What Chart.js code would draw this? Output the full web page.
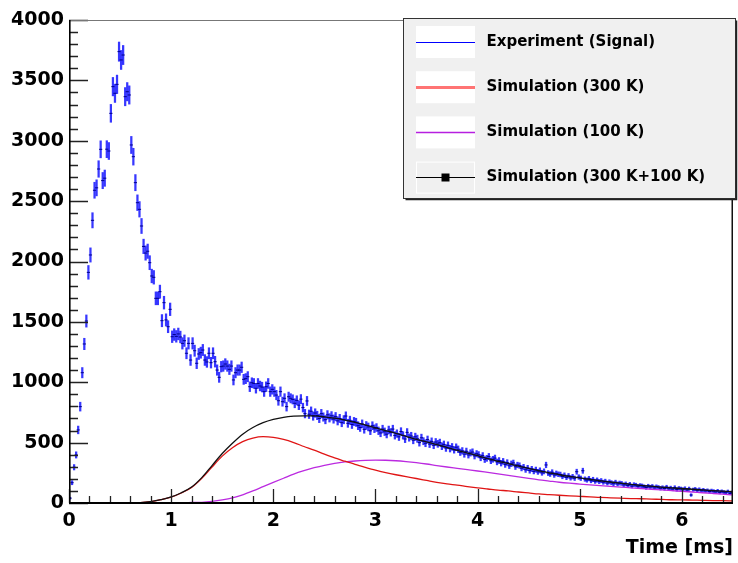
<!DOCTYPE html>
<html>
<head>
<meta charset="utf-8">
<title>Signal vs simulation</title>
<script src="https://cdn.jsdelivr.net/npm/chart.js@4.4.1/dist/chart.umd.min.js"></script>
<style>
  html, body { margin: 0; padding: 0; background: #fff; }
  #wrap { width: 738px; height: 563px; }
</style>
</head>
<body>
<div id="wrap"><canvas id="c" width="738" height="563"></canvas></div>
<script>
// measured signal, histogram with 0.02 ms bins (bin centres from 0.01 ms)
const BIN_T0 = 0.01, BIN_W = 0.02;
const signal = [
  40, 168, 296, 398, 605, 798, 1079, 1317, 1507, 1910,
  2054, 2341, 2590, 2610, 2766, 2929, 2670, 2690, 2930, 2915,
  3227, 3448, 3393, 3467, 3738, 3669, 3710, 3365, 3406, 3379,
  2965, 2868, 2653, 2487, 2432, 2294, 2125, 2070, 2085, 1990,
  1880, 1869, 1695, 1695, 1750, 1510, 1659, 1516, 1460, 1604,
  1377, 1395, 1380, 1400, 1375, 1322, 1344, 1240, 1322, 1184,
  1322, 1261, 1157, 1234, 1245, 1267, 1184, 1168, 1240, 1162,
  1240, 1170, 1101, 1041, 1129, 1134, 1151, 1134, 1107, 1134,
  1019, 1079, 1101, 1101, 1124, 1024, 1030, 1046, 963, 996,
  990, 950, 990, 969, 960, 922, 963, 990, 922, 941,
  922, 894, 847, 922, 839, 867, 798, 880, 867, 858,
  826, 850, 810, 860, 790, 740, 845, 735, 760, 720,
  745, 725, 700, 740, 712, 690, 730, 705, 722, 695,
  715, 680, 700, 665, 690, 720, 660, 685, 650, 675,
  668, 640, 625, 655, 610, 642, 630, 598, 640, 615,
  625, 598, 580, 612, 590, 570, 605, 585, 612, 560,
  575, 548, 592, 560, 530, 585, 542, 555, 520, 548,
  532, 500, 540, 512, 495, 525, 488, 510, 478, 505,
  490, 500, 470, 485, 455, 478, 450, 465, 440, 462,
  445, 420, 432, 405, 428, 398, 415, 422, 390, 408,
  400, 375, 392, 360, 370, 385, 350, 362, 372, 340,
  352, 330, 345, 318, 335, 308, 325, 332, 300, 315,
  310, 288, 298, 275, 290, 268, 282, 262, 276, 258,
  270, 250, 262, 315, 248, 240, 255, 232, 245, 238,
  236, 220, 230, 212, 225, 208, 218, 205, 259, 215,
  205, 267, 198, 190, 202, 185, 195, 180, 190, 178,
  185, 172, 180, 165, 175, 168, 160, 172, 158, 165,
  162, 150, 158, 145, 155, 140, 152, 148, 138, 145,
  142, 135, 128, 140, 132, 138, 125, 135, 130, 122,
  128, 120, 132, 118, 125, 115, 128, 112, 122, 118,
  112, 120, 108, 118, 66, 110, 115, 105, 112, 102,
  108, 100, 104, 95, 102, 98, 92, 100, 88, 96,
  90, 85, 95, 80, 88
];
const ERR_SCALE = 1.3; // error bar half-length in units of sqrt(N)

// simulation curves, sampled every 0.1 ms
const simT = [
  0.6, 0.7, 0.8, 0.9, 1.0, 1.1, 1.2, 1.3, 1.4, 1.5,
  1.6, 1.7, 1.8, 1.9, 2.0, 2.1, 2.2, 2.3, 2.4, 2.5,
  2.6, 2.7, 2.8, 2.9, 3.0, 3.1, 3.2, 3.3, 3.4, 3.5,
  3.6, 3.7, 3.8, 3.9, 4.0, 4.1, 4.2, 4.3, 4.4, 4.5,
  4.6, 4.7, 4.8, 4.9, 5.0, 5.1, 5.2, 5.3, 5.4, 5.5,
  5.6, 5.7, 5.8, 5.9, 6.0, 6.1, 6.2, 6.3, 6.4, 6.5
];
const sim300 = [
  0, 3, 12, 28, 49, 83, 128, 204, 298, 388,
  458, 508, 538, 550, 544, 526, 500, 468, 437, 404,
  373, 346, 320, 296, 273, 252, 234, 218, 203, 187,
  171, 158, 148, 136, 125, 116, 107, 100, 91, 83,
  75, 70, 64, 59, 55, 51, 46, 43, 40, 37,
  35, 32, 30, 27, 26, 24, 22, 20, 19, 17
];
const sim100 = [
  null, null, null, 0, 1, 2, 4, 6, 13, 25,
  42, 68, 100, 135, 170, 205, 240, 268, 292, 312,
  328, 340, 348, 353, 355, 354, 350, 343, 334, 323,
  310, 298, 287, 276, 265, 253, 241, 229, 217, 204,
  192, 182, 172, 164, 157, 150, 144, 138, 132, 126,
  120, 114, 108, 102, 97, 91, 85, 79, 73, 67
];
const simSum = [
  0, 3, 12, 28, 50, 85, 132, 210, 310, 410,
  495, 570, 625, 665, 692, 710, 719, 722, 722, 714,
  702, 686, 667, 646, 623, 600, 577, 552, 527, 506,
  484, 460, 436, 414, 392, 368, 345, 326, 306, 287,
  266, 250, 234, 220, 208, 196, 184, 174, 164, 155,
  146, 139, 132, 125, 120, 114, 108, 103, 98, 93
];

const X_MAX = 6.5, Y_MAX = 4000;
const FONT = '"DejaVu Sans", Arial, sans-serif';

const legendItems = [
  {text: 'Experiment (Signal)',       color: '#0000ff', width: 1},
  {text: 'Simulation (300 K)',        color: 'rgba(255,70,70,0.75)', width: 3},
  {text: 'Simulation (100 K)',        color: '#b61fe0', width: 1.3},
  {text: 'Simulation (300 K+100 K)',  color: '#000', width: 1, marker: true}
];

const binT = i => BIN_T0 + i * BIN_W;
const curve = vals => simT.map((t, i) => ({x: t, y: vals[i]}));

// axis frame with inward ticks, ROOT style
const frameTicks = {
  id: 'frameTicks',
  afterDatasetsDraw(chart) {
    const {ctx, chartArea: a, scales: {x, y}} = chart;
    ctx.save();
    ctx.strokeStyle = '#222';
    ctx.lineWidth = 1.3;
    ctx.beginPath();
    for (let v = 0; v <= Y_MAX; v += 100) {
      const py = Math.round(y.getPixelForValue(v)) + 0.5;
      const len = v % 500 === 0 ? 19 : 9;
      ctx.moveTo(a.left, py);
      ctx.lineTo(a.left + len, py);
    }
    for (let k = 0; k * 0.2 <= X_MAX; k++) {
      const px = Math.round(x.getPixelForValue(k * 0.2)) + 0.5;
      const len = k % 5 === 0 ? 14 : 7;
      ctx.moveTo(px, a.bottom);
      ctx.lineTo(px, a.bottom - len);
    }
    ctx.stroke();

    // top and right edges of the frame
    ctx.strokeStyle = '#777';
    ctx.lineWidth = 1;
    ctx.beginPath();
    ctx.moveTo(a.left, a.top + 0.5);
    ctx.lineTo(a.right, a.top + 0.5);
    ctx.stroke();
    ctx.strokeStyle = '#111';
    ctx.lineWidth = 1.5;
    ctx.beginPath();
    ctx.moveTo(a.right - 0.75, a.top);
    ctx.lineTo(a.right - 0.75, a.bottom);
    ctx.stroke();

    // axes
    ctx.strokeStyle = '#000';
    ctx.lineWidth = 1.6;
    ctx.beginPath();
    ctx.moveTo(a.left + 0.8, a.top);
    ctx.lineTo(a.left + 0.8, a.bottom);
    ctx.stroke();
    ctx.lineWidth = 2.2;
    ctx.beginPath();
    ctx.moveTo(a.left, a.bottom);
    ctx.lineTo(a.right, a.bottom);
    ctx.stroke();
    ctx.restore();
  }
};

// boxed legend in the upper right
const boxLegend = {
  id: 'boxLegend',
  afterDraw(chart) {
    const ctx = chart.ctx;
    const L = 403.5, T = 18.5, W = 332, H = 180;
    ctx.save();
    ctx.fillStyle = '#f0f0f0';
    ctx.fillRect(L, T, W, H);
    ctx.strokeStyle = '#333';
    ctx.lineWidth = 1;
    ctx.strokeRect(L, T, W, H);
    // shadow on right and bottom
    ctx.strokeStyle = '#222';
    ctx.lineWidth = 1.5;
    ctx.beginPath();
    ctx.moveTo(L + W + 1, T + 2);
    ctx.lineTo(L + W + 1, T + H + 1);
    ctx.lineTo(L + 2, T + H + 1);
    ctx.stroke();

    ctx.font = 'bold 15px ' + FONT;
    ctx.textBaseline = 'middle';
    ctx.textAlign = 'left';
    legendItems.forEach((it, i) => {
      const cy = 41.5 + i * 45.2;
      const bx = 416, bw = 59, bh = 32, by = cy - 15.5;
      if (it.marker) {
        ctx.fillStyle = '#f0f0f0';
        ctx.fillRect(bx, by, bw, bh);
        ctx.strokeStyle = '#fff';
        ctx.lineWidth = 1;
        ctx.strokeRect(bx + 0.5, by + 0.5, bw - 1, bh - 1);
      } else {
        ctx.fillStyle = '#fff';
        ctx.fillRect(bx, by, bw, bh);
      }
      ctx.strokeStyle = it.color;
      ctx.lineWidth = it.width;
      ctx.beginPath();
      ctx.moveTo(bx, Math.round(cy) + 0.5);
      ctx.lineTo(bx + bw, Math.round(cy) + 0.5);
      ctx.stroke();
      if (it.marker) {
        ctx.fillStyle = '#000';
        ctx.fillRect(bx + bw / 2 - 4, Math.round(cy) - 3.5, 8, 8);
      }
      ctx.fillStyle = '#000';
      ctx.fillText(it.text, 486.5, cy + 0.5);
    });
    ctx.restore();
  }
};

const tickFont = {family: FONT, size: 19, weight: 'bold'};

new Chart(document.getElementById('c'), {
  type: 'line',
  data: {
    datasets: [
      {
        type: 'line', label: 'Simulation (300 K+100 K)', order: 1,
        data: curve(simSum),
        borderColor: '#111', borderWidth: 1.3,
        pointRadius: 0, cubicInterpolationMode: 'monotone', tension: 0.4
      },
      {
        type: 'line', label: 'Simulation (300 K)', order: 1,
        data: curve(sim300),
        borderColor: '#e01515', borderWidth: 1.3,
        pointRadius: 0, cubicInterpolationMode: 'monotone', tension: 0.4
      },
      {
        type: 'line', label: 'Simulation (100 K)', order: 1,
        data: curve(sim100),
        borderColor: '#bb2ae0', borderWidth: 1.3,
        pointRadius: 0, cubicInterpolationMode: 'monotone', tension: 0.4
      },
      {
        type: 'bar', label: 'Experiment (Signal) errors', order: 3,
        data: signal.map((n, i) => {
          const e = ERR_SCALE * Math.sqrt(n);
          return {x: binT(i), y: [n - e, n + e]};
        }),
        backgroundColor: 'rgba(20,20,255,0.85)',
        borderWidth: 0,
        barThickness: 1.6
      },
      {
        type: 'line', label: 'Experiment (Signal)', order: 2,
        data: signal.map((n, i) => ({x: binT(i), y: n})),
        showLine: false,
        pointStyle: 'line', pointRadius: 1.6,
        pointBorderColor: '#00008a', pointBorderWidth: 1
      }
    ]
  },
  options: {
    responsive: false,
    animation: false,
    events: [],
    layout: {padding: {top: 20, right: 1, left: 0, bottom: 0}},
    plugins: {legend: {display: false}, tooltip: {enabled: false}},
    scales: {
      x: {
        type: 'linear', min: 0, max: X_MAX, offset: false,
        grid: {display: false, drawTicks: false},
        border: {display: false},
        ticks: {stepSize: 1, includeBounds: false, padding: 7, color: '#000',
                maxRotation: 0, font: tickFont, callback: v => String(v)},
        title: {display: true, text: 'Time [ms]', align: 'end', color: '#000',
                font: tickFont, padding: {top: 0, bottom: 4}},
        afterFit(s) { s.height = 60; }
      },
      y: {
        type: 'linear', min: 0, max: Y_MAX,
        grid: {display: false, drawTicks: false},
        border: {display: false},
        ticks: {stepSize: 500, padding: 5, color: '#000', font: tickFont,
                callback: v => String(v)},
        afterFit(s) { s.width = 69; }
      }
    }
  },
  plugins: [frameTicks, boxLegend]
});
</script>
</body>
</html>
